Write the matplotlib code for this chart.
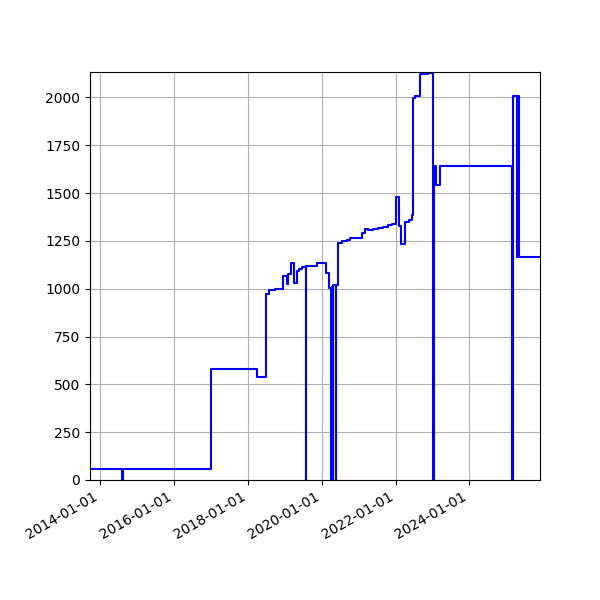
import numpy as np
import pandas as pd
import matplotlib
matplotlib.use('Agg')
import matplotlib.pyplot as plt
import matplotlib.dates as mdates

# step data
dates = ['2013-09-21', '2014-08-06', '2014-08-14', '2015-07-12', '2016-12-28',
         '2018-03-29', '2018-06-29', '2018-07-31', '2018-09-26', '2018-12-11',
         '2019-01-20', '2019-02-04', '2019-03-03', '2019-04-02', '2019-05-05',
         '2019-05-26', '2019-06-17', '2019-07-25', '2019-07-30', '2019-11-12',
         '2020-02-12', '2020-03-16', '2020-04-06', '2020-04-10', '2020-04-16',
         '2020-04-20', '2020-05-21', '2020-05-26', '2020-06-13', '2020-07-17',
         '2020-09-04', '2020-10-07', '2021-01-31', '2021-03-05', '2021-04-06',
         '2021-05-26', '2021-07-11', '2021-08-30', '2021-10-18', '2021-11-27',
         '2022-01-06', '2022-02-07', '2022-03-01', '2022-04-04', '2022-05-14',
         '2022-06-16', '2022-06-20', '2022-07-12', '2022-08-31', '2022-11-05',
         '2022-11-21', '2023-01-09', '2023-01-14', '2023-02-08', '2023-03-17',
         '2025-03-01', '2025-03-05', '2025-04-20', '2025-04-25', '2025-05-03',
         '2025-12-01']
values = [56, 0, 56, 57, 578,
          539, 970, 992, 999, 1067,
          1027, 1079, 1135, 1031, 1093,
          1105, 1112, 0, 1118, 1135,
          1083, 1003, 0, 1010, 0,
          1017, 0, 1020, 1239, 1248,
          1257, 1267, 1291, 1314, 1305,
          1312, 1320, 1325, 1333, 1338,
          1479, 1326, 1236, 1349, 1361,
          1384, 1998, 2005, 2124, 2120,
          2128, 0, 1640, 1540, 1640,
          0, 2005, 1166, 2005, 1166,
          1166]

x = pd.to_datetime(dates)
y = np.array(values)

fig, ax = plt.subplots(figsize=(6, 6), dpi=100)
ax.plot(x, y, 'b-', drawstyle='steps-post', linewidth=1.5)
ax.margins(0)
ax.set_xlim(x[0], x[-1])
ax.set_ylim(0, 2133)
ax.xaxis.set_major_locator(mdates.YearLocator(2))
ax.xaxis.set_major_formatter(mdates.DateFormatter('%Y-%m-%d'))
ax.grid(True)
fig.autofmt_xdate()
fig.subplots_adjust(left=0.15, right=0.9, top=0.88, bottom=0.2)
plt.savefig('out.png')
